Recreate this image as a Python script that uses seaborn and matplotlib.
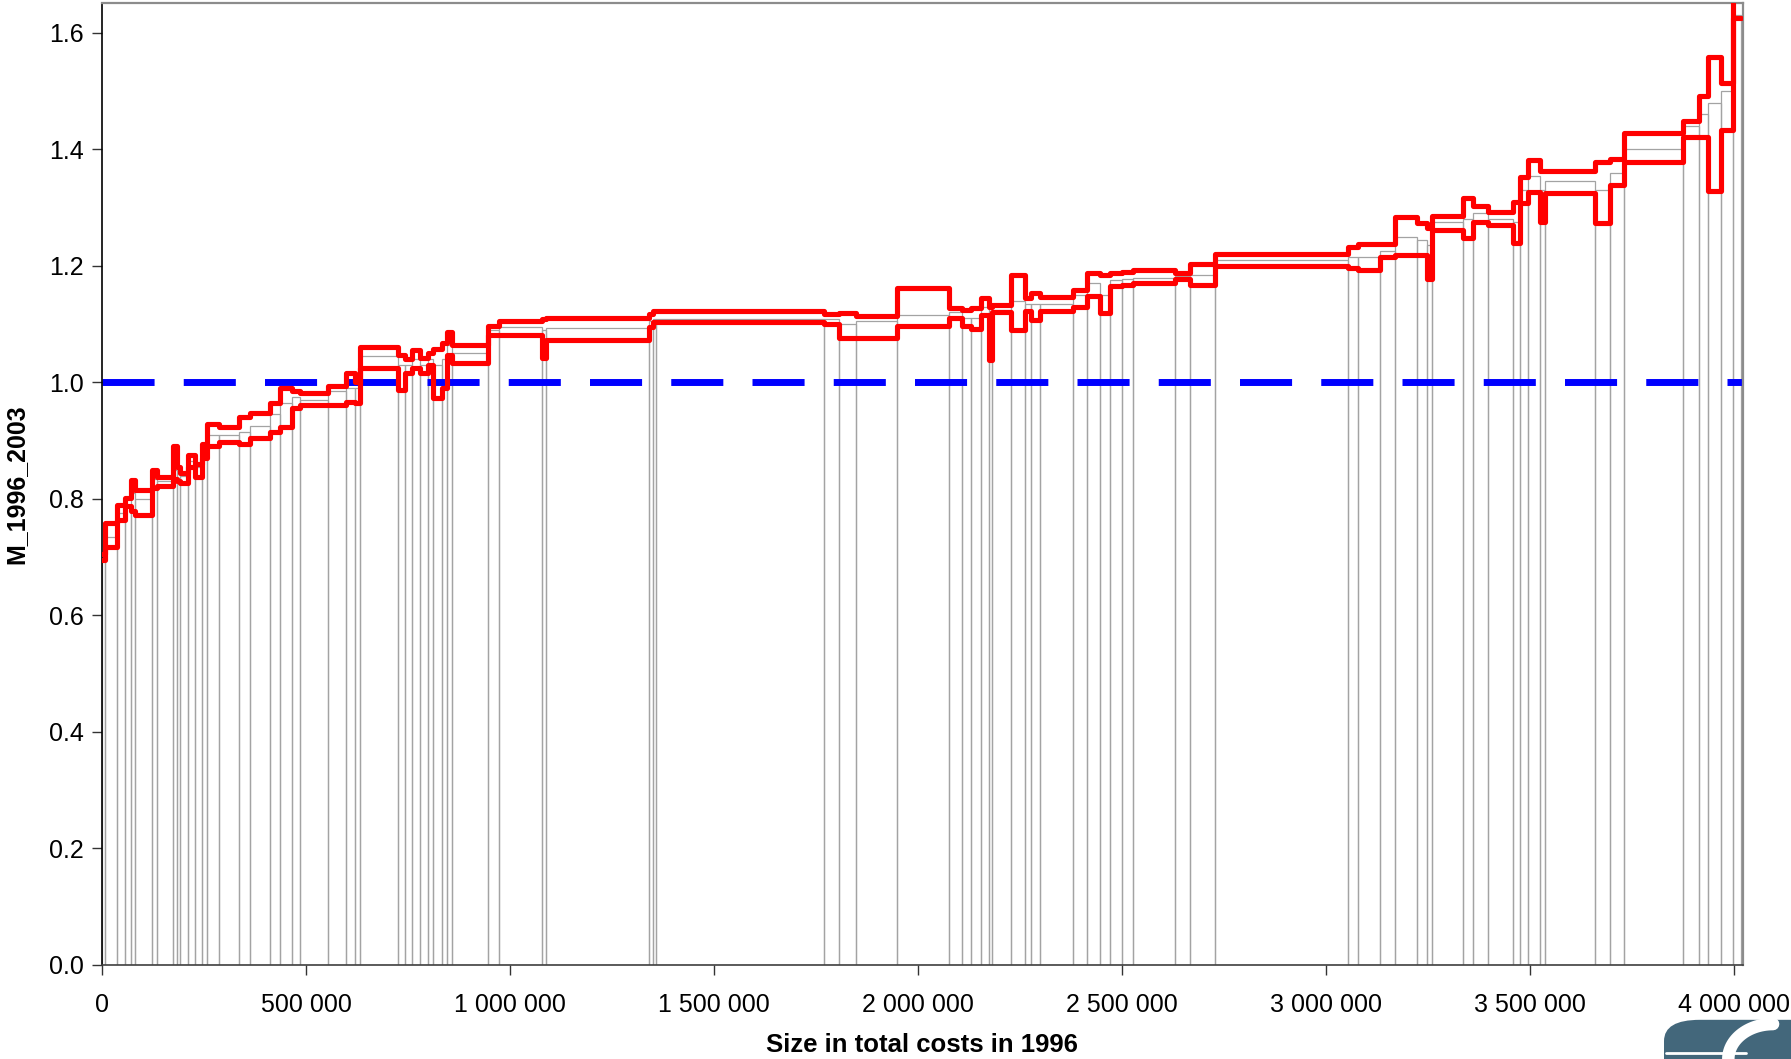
import numpy as np
import seaborn as sns
import matplotlib.pyplot as plt
from matplotlib.patches import FancyBboxPatch
from matplotlib.ticker import FuncFormatter

# firm sizes (total costs 1996), sorted by M; M index with lower / upper bound
size_1996 = [7000, 29000, 20000, 15000, 10000, 42000, 12000, 39000, 10000, 7000,
             20000, 17000, 17000, 12000, 29000, 49000, 27000, 49000, 25000, 29000,
             20000, 69000, 44000, 22000, 12000, 93000, 17000, 17000, 20000, 20000,
             12000, 22000, 12000, 12000, 88000, 29000, 105000, 10000, 252000, 10000,
             7000, 412000, 37000, 42000, 100000, 127000, 32000, 22000, 25000, 20000,
             7000, 47000, 32000, 17000, 20000, 81000, 34000, 32000, 25000, 29000,
             27000, 103000, 37000, 61000, 326000, 25000, 54000, 37000, 54000, 25000,
             12000, 76000, 25000, 37000, 61000, 17000, 20000, 29000, 12000, 123000,
             37000, 34000, 145000, 37000, 22000, 34000, 29000, 20000]
m_1996_2003 = [0.700, 0.735, 0.775, 0.790, 0.810, 0.800, 0.835, 0.830, 0.850, 0.845,
               0.840, 0.865, 0.855, 0.880, 0.910, 0.910, 0.915, 0.925, 0.945, 0.965,
               0.975, 0.970, 0.985, 0.990, 0.990, 1.045, 1.030, 1.030, 1.040, 1.030,
               1.040, 1.030, 1.040, 1.065, 1.050, 1.090, 1.095, 1.090, 1.094, 1.105,
               1.108, 1.109, 1.108, 1.100, 1.105, 1.115, 1.120, 1.110, 1.110, 1.130,
               1.120, 1.125, 1.140, 1.135, 1.135, 1.135, 1.150, 1.170, 1.150, 1.175,
               1.178, 1.180, 1.183, 1.185, 1.210, 1.215, 1.215, 1.225, 1.250, 1.245,
               1.235, 1.275, 1.280, 1.290, 1.280, 1.275, 1.330, 1.355, 1.330, 1.345,
               1.330, 1.360, 1.400, 1.440, 1.460, 1.480, 1.500, 1.630]
m_lower = [0.695, 0.718, 0.764, 0.787, 0.780, 0.773, 0.818, 0.822, 0.835, 0.830,
           0.827, 0.855, 0.838, 0.870, 0.890, 0.898, 0.895, 0.905, 0.915, 0.924,
           0.956, 0.961, 0.962, 0.967, 0.965, 1.024, 0.987, 1.016, 1.024, 1.016,
           1.030, 0.973, 0.990, 1.047, 1.033, 1.082, 1.082, 1.042, 1.073, 1.095,
           1.104, 1.103, 1.100, 1.076, 1.076, 1.096, 1.110, 1.096, 1.091, 1.116,
           1.039, 1.120, 1.090, 1.122, 1.107, 1.122, 1.130, 1.149, 1.119, 1.165,
           1.167, 1.170, 1.178, 1.167, 1.200, 1.197, 1.193, 1.216, 1.219, 1.219,
           1.178, 1.262, 1.248, 1.276, 1.270, 1.239, 1.308, 1.326, 1.276, 1.325,
           1.274, 1.338, 1.378, 1.422, 1.422, 1.328, 1.433, 1.625]
m_upper = [0.705, 0.758, 0.790, 0.801, 0.833, 0.815, 0.850, 0.838, 0.890, 0.855,
           0.845, 0.875, 0.860, 0.895, 0.928, 0.924, 0.941, 0.947, 0.965, 0.990,
           0.985, 0.982, 0.993, 1.016, 1.000, 1.061, 1.047, 1.040, 1.056, 1.042,
           1.050, 1.058, 1.067, 1.087, 1.064, 1.096, 1.106, 1.108, 1.110, 1.118,
           1.122, 1.122, 1.118, 1.119, 1.114, 1.162, 1.127, 1.124, 1.127, 1.144,
           1.130, 1.133, 1.185, 1.144, 1.154, 1.147, 1.159, 1.188, 1.185, 1.188,
           1.190, 1.193, 1.188, 1.203, 1.221, 1.233, 1.237, 1.238, 1.284, 1.273,
           1.265, 1.285, 1.316, 1.302, 1.292, 1.310, 1.353, 1.382, 1.362, 1.362,
           1.378, 1.384, 1.428, 1.449, 1.491, 1.558, 1.514, 1.660]

sns.set_style("ticks")
plt.rcParams['font.family'] = ['Liberation Sans', 'DejaVu Sans']
plt.rcParams['text.color'] = 'black'
plt.rcParams['axes.labelcolor'] = 'black'
plt.rcParams['xtick.color'] = 'black'
plt.rcParams['ytick.color'] = 'black'

sizes = np.array(size_1996, dtype=float)
x_right = np.cumsum(sizes)
x_left = x_right - sizes
x_steps = np.append(x_left, x_right[-1])

fig = plt.figure(figsize=(17.91, 10.59), dpi=100)
ax = fig.add_axes([102 / 1791, 1 - 965 / 1059, 1640.6 / 1791, 962.5 / 1059])

# grey bars: width = firm size, height = M
ax.bar(x_left, m_1996_2003, width=sizes, align='edge', fill=False,
       edgecolor='#a3a3a3', linewidth=0.9, zorder=1)

ax.axhline(1.0, color='#0000ff', lw=5, dashes=(7.5, 4.2), zorder=2)

for bound in (m_upper, m_lower):
    sns.lineplot(x=x_steps, y=np.append(bound, bound[-1]), drawstyle='steps-post',
                 estimator=None, sort=False, color='#ff0000', lw=3.7, ax=ax, zorder=3)

ax.set_xlim(0, 4021000)
ax.set_ylim(0, 1.652)
ax.set_yticks(np.arange(0, 1.61, 0.2))
ax.set_xticks(np.arange(0, 4000001, 500000))
ax.xaxis.set_major_formatter(FuncFormatter(lambda v, p: f"{int(v):,}".replace(",", " ")))
ax.yaxis.set_major_formatter(FuncFormatter(lambda v, p: f"{v:.1f}"))
ax.tick_params(axis='x', labelsize=18, length=7, width=1, pad=13, color='#333333')
ax.tick_params(axis='y', labelsize=18, length=7, width=1, pad=6, color='#333333')

for side in ('top', 'right'):
    ax.spines[side].set_visible(True)
    ax.spines[side].set_color('#8c8c8c')
    ax.spines[side].set_linewidth(1.6)
ax.spines['left'].set_color('black')
ax.spines['left'].set_linewidth(1.2)
ax.spines['bottom'].set_color('#404040')
ax.spines['bottom'].set_linewidth(1.2)

ax.set_xlabel("Size in total costs in 1996", fontsize=18.5, fontweight='bold')
ax.set_ylabel("M_1996_2003", fontsize=18, fontweight='bold')
ax.xaxis.set_label_coords(0.5, -0.071)
ax.yaxis.set_label_coords(-0.045, 0.5)

# partial logo in the bottom right corner
logo = FancyBboxPatch((1664 / 1791, -0.05), 0.12, 0.087,
                      boxstyle="round,pad=0,rounding_size=0.02",
                      transform=fig.transFigure, facecolor='#43677b',
                      edgecolor='none', clip_on=False)
fig.patches.append(logo)
fig.lines.append(plt.Line2D([0.93, 0.975], [0.006, 0.006], transform=fig.transFigure,
                            color='white', lw=2))
arc_t = np.linspace(0.5 * np.pi, np.pi, 30)
fig.lines.append(plt.Line2D(0.99 + 0.025 * np.cos(arc_t), 0.0 + 0.033 * np.sin(arc_t),
                            transform=fig.transFigure, color='white', lw=9))

fig.savefig("out.png", dpi=100)
